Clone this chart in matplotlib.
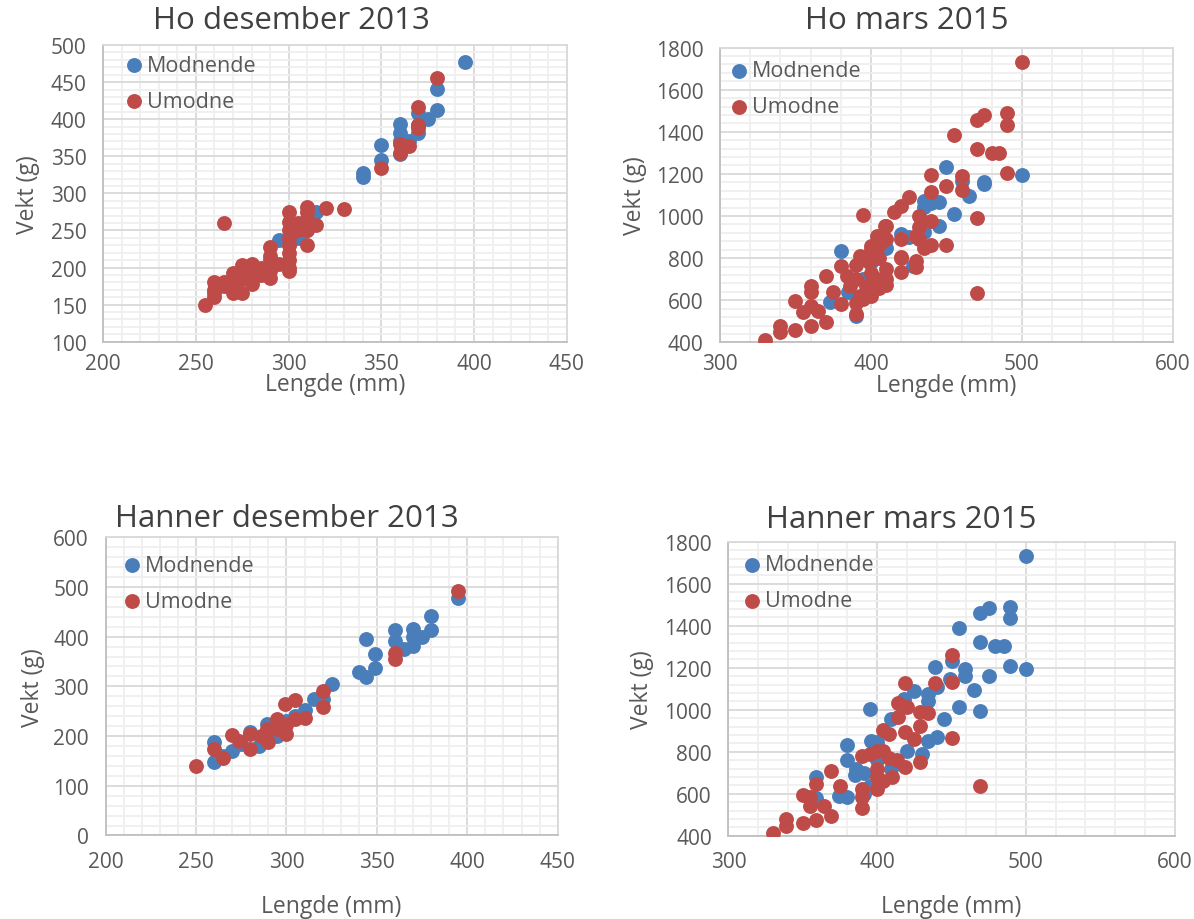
import matplotlib
matplotlib.use("Agg")
import matplotlib.pyplot as plt
from matplotlib.ticker import MultipleLocator, AutoMinorLocator
from matplotlib.transforms import offset_copy

plt.rcParams['font.family'] = ['Open Sans', 'DejaVu Sans']

BLUE = "#4a7ebb"
RED = "#be4b48"

# ---------------- Ho desember 2013 ----------------
ho13_mod_L = [395, 380, 380, 375, 370, 370, 370, 365, 360, 360, 360, 360, 350, 350, 340, 340,
              295, 315, 300, 290, 280, 270, 260, 310, 305]
ho13_mod_W = [477, 441, 413, 400, 408, 392, 381, 370, 393, 381, 370, 353, 365, 345, 327, 322,
              237, 275, 230, 210, 190, 175, 165, 250, 240]
ho13_umo_L = [380, 370, 370, 370, 365, 360, 360, 350, 330, 320, 310, 310, 310, 310, 310, 315,
              305, 305, 300, 300, 300, 300, 300, 300, 300, 300, 300, 295, 290, 290, 290, 290,
              290, 285, 285, 280, 280, 280, 280, 275, 275, 275, 275, 270, 270, 270, 270, 265,
              265, 265, 260, 260, 260, 255]
ho13_umo_W = [455, 416, 392, 388, 364, 367, 354, 334, 279, 280, 282, 275, 265, 250, 230, 257,
              260, 250, 275, 262, 250, 240, 230, 220, 210, 200, 195, 205, 228, 215, 205, 195,
              186, 200, 190, 205, 195, 185, 178, 203, 195, 185, 165, 192, 180, 170, 165, 260,
              180, 175, 180, 170, 160, 150]

# ---------------- Ho mars 2015 ----------------
ho15_mod_L = [500, 450, 460, 475, 475, 465, 455, 435, 435, 445, 435, 420, 380, 373, 428, 390,
              440, 445, 425, 410, 400, 395, 385]
ho15_mod_W = [1195, 1231, 1168, 1160, 1150, 1094, 1010, 1073, 1042, 954, 923, 915, 835, 590, 764, 527,
              1060, 1065, 900, 850, 780, 700, 640]
ho15_umo_L = [500, 470, 475, 490, 490, 455, 470, 480, 485, 490, 440, 460, 450, 460, 440, 425,
              420, 415, 395, 432, 440, 410, 470, 450, 440, 435, 420, 470,
              330, 340, 340, 350, 360, 370, 350, 355, 360, 365, 360, 360, 370, 380, 375, 380, 390,
              400, 404, 409, 410, 404, 397, 393, 384, 386, 399, 393, 405, 420, 420, 430, 430,
              420, 432, 432, 430, 410, 405, 400, 400, 400, 395, 390, 390, 390, 410, 410, 405]
ho15_umo_W = [1733, 1456, 1480, 1489, 1434, 1385, 1318, 1298, 1299, 1204, 1195, 1191, 1141, 1125, 1113, 1089,
              1049, 1020, 1003, 1000, 978, 954, 991, 864, 864, 847, 891, 634,
              412, 479, 447, 460, 479, 495, 598, 543, 574, 550, 669, 640, 714, 761, 638, 582, 535,
              859, 907, 954, 748, 701, 669, 621, 716, 669, 780, 810, 800, 804, 733, 788, 756,
              800, 950, 890, 907, 891, 860, 840, 728, 621, 605, 765, 700, 585, 701, 670, 660]

# ---------------- Hanner desember 2013 ----------------
ha13_mod_L = [395, 380, 380, 370, 370, 370, 375, 360, 360, 365, 344, 349, 349, 340, 344, 325,
              315, 320, 310, 260, 260, 270, 280, 289, 295, 285, 265, 275, 300, 305]
ha13_mod_W = [478, 442, 413, 416, 400, 381, 400, 413, 392, 376, 395, 366, 336, 329, 319, 305,
              275, 275, 252, 188, 148, 170, 208, 225, 200, 180, 160, 185, 230, 240]
ha13_umo_L = [395, 360, 360, 320, 320, 250, 260, 265, 270, 280, 280, 274, 289, 290, 295, 299,
              305, 300, 300, 310, 305, 295, 286]
ha13_umo_W = [492, 368, 356, 290, 258, 140, 173, 156, 203, 174, 204, 190, 215, 188, 235, 265,
              272, 205, 222, 237, 235, 215, 200]

# ---------------- Hanner mars 2015 ----------------
ha15_mod_L = [500, 469, 475, 489, 489, 455, 469, 479, 485, 489, 500, 439, 450, 459, 459, 475,
              465, 455, 469, 449, 440, 395, 380, 380, 359, 359, 380, 374, 386, 400, 409, 418,
              425, 434, 434, 445, 440, 434, 430, 420, 409, 395, 391, 400, 391, 385, 396]
ha15_mod_W = [1733, 1460, 1484, 1488, 1435, 1389, 1321, 1302, 1302, 1207, 1194, 1202, 1233, 1194, 1162, 1162,
              1095, 1011, 995, 1146, 1110, 1003, 832, 762, 678, 578, 583, 590, 717, 845, 956, 1051,
              1091, 1075, 1043, 956, 869, 850, 789, 805, 717, 638, 600, 760, 700, 690, 850]
ha15_umo_L = [450, 450, 439, 419, 450, 469, 414, 414, 420, 429, 434, 429, 404, 408, 419, 425,
              390, 395, 400, 404, 408, 413, 419, 429, 400, 400, 400, 390, 390, 390, 410, 404,
              369, 375, 359, 350, 355, 355, 364, 369, 359, 350, 339, 339, 330]
ha15_umo_W = [1260, 1130, 1127, 1127, 865, 635, 1032, 964, 1011, 988, 985, 924, 905, 884, 892, 860,
              778, 790, 802, 802, 770, 762, 726, 750, 720, 680, 623, 623, 583, 530, 678, 660,
              707, 635, 646, 595, 583, 543, 543, 495, 476, 461, 480, 445, 413]

panels = [
    dict(title="Ho desember 2013", pos=[0.0865, 0.6275, 0.3881, 0.3225],
         xlim=(200, 450), xmaj=50, ylim=(100, 500), ymaj=50, leg=(11, 1),
         xpad=8, xlpad=-1, ylpad=8,
         mod=(ho13_mod_L, ho13_mod_W), umo=(ho13_umo_L, ho13_umo_W), tx=291, ty=21),
    dict(title="Ho mars 2015", pos=[0.6030, 0.6268, 0.3794, 0.3204],
         xlim=(300, 600), xmaj=100, ylim=(400, 1800), ymaj=200, leg=(0, 4),
         xpad=8, xlpad=-1, ylpad=6,
         mod=(ho15_mod_L, ho15_mod_W), umo=(ho15_umo_L, ho15_umo_W), tx=907, ty=21),
    dict(title="Hanner desember 2013", pos=[0.0884, 0.0908, 0.3787, 0.3241],
         xlim=(200, 450), xmaj=50, ylim=(0, 600), ymaj=100, leg=(7, 9),
         xpad=11, xlpad=16, ylpad=6,
         mod=(ha13_mod_L, ha13_mod_W), umo=(ha13_umo_L, ha13_umo_W), tx=287, ty=519),
    dict(title="Hanner mars 2015", pos=[0.6101, 0.0905, 0.3737, 0.3196],
         xlim=(300, 600), xmaj=100, ylim=(400, 1800), ymaj=200, leg=(4, 4),
         xpad=11, xlpad=16, ylpad=7,
         mod=(ha15_mod_L, ha15_mod_W), umo=(ha15_umo_L, ha15_umo_W), tx=901, ty=520),
]

W_PX, H_PX = 1194, 920
fig = plt.figure(figsize=(W_PX / 100, H_PX / 100), dpi=100)

TXT = "#595959"
for p in panels:
    ax = fig.add_axes(p["pos"])
    ax.set_xlim(*p["xlim"])
    ax.set_ylim(*p["ylim"])
    ax.xaxis.set_major_locator(MultipleLocator(p["xmaj"]))
    ax.yaxis.set_major_locator(MultipleLocator(p["ymaj"]))
    ax.xaxis.set_minor_locator(AutoMinorLocator(5))
    ax.yaxis.set_minor_locator(AutoMinorLocator(5))
    ax.grid(which="major", color="#d9d9d9", linewidth=1.3, zorder=0)
    ax.grid(which="minor", color="#efefef", linewidth=1.3, zorder=0)
    ax.set_axisbelow(True)
    for s in ax.spines.values():
        s.set_color("#d9d9d9")
        s.set_linewidth(1.3)
    ax.spines["left"].set_color("#bfbfbf")
    ax.spines["bottom"].set_color("#bfbfbf")
    ax.tick_params(which="both", length=0, colors=TXT, labelsize=15)
    ax.tick_params(axis="y", pad=12)
    ax.tick_params(axis="x", pad=p["xpad"])
    ax.scatter(p["mod"][0], p["mod"][1], s=115, color=BLUE, linewidths=0, label="Modnende", zorder=3)
    ax.scatter(p["umo"][0], p["umo"][1], s=115, color=RED, linewidths=0, label="Umodne", zorder=4)
    ax.set_xlabel("Lengde (mm)", fontsize=16.5, color=TXT, labelpad=p["xlpad"])
    ax.set_ylabel("Vekt (g)", fontsize=16.5, color=TXT, labelpad=p["ylpad"])
    dx, dy = p["leg"]
    anchor_tr = offset_copy(ax.transAxes, fig=fig, x=dx, y=-dy, units="dots")
    leg = ax.legend(loc="upper left", bbox_to_anchor=(0, 1), bbox_transform=anchor_tr,
                    frameon=False, fontsize=15.5, handletextpad=0.1,
                    handlelength=1.0, labelspacing=0.7, borderaxespad=0.0, borderpad=0.4)
    for t in leg.get_texts():
        t.set_color(TXT)
    fig.text(p["tx"] / W_PX, 1 - p["ty"] / H_PX, p["title"], fontsize=22.5, color="#404040",
             ha="center", va="center")

fig.savefig("out.png", dpi=100)
